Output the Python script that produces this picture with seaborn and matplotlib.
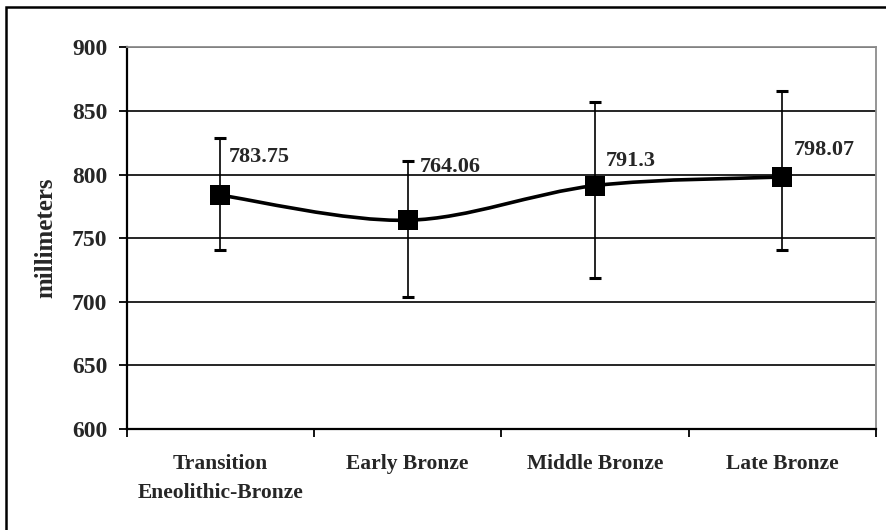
import numpy as np
import pandas as pd
import matplotlib
matplotlib.use("Agg")
import matplotlib.pyplot as plt
import seaborn as sns
from matplotlib.path import Path
from matplotlib.patches import PathPatch, Rectangle

# data
periods = ["Transition\nEneolithic-Bronze", "Early Bronze", "Middle Bronze", "Late Bronze"]
means = [783.75, 764.06, 791.3, 798.07]
err_low = [741, 704, 719, 741]
err_high = [829, 811, 857, 866]
mean_labels = ["783.75", "764.06", "791.3", "798.07"]

# label offsets (pixels, right / up from the point)
label_dx = [8, 12, 11, 11]
label_dy = [38, 53, 25, 27]

sns.set_style("white")
plt.rcParams["font.family"] = ["Liberation Serif", "DejaVu Serif"]
plt.rcParams["font.weight"] = "bold"

DPI = 100
fig = plt.figure(figsize=(8.86, 5.30), dpi=DPI)
ax = fig.add_axes([126.7 / 886, 1 - 429 / 530, (876 - 126.7) / 886, (429 - 47.3) / 530])

df = pd.DataFrame({"x": np.arange(len(periods)), "mean": means,
                   "lo": err_low, "hi": err_high})

# error bars
ax.errorbar(df["x"], df["mean"],
            yerr=[df["mean"] - df["lo"], df["hi"] - df["mean"]],
            fmt="none", ecolor="black", elinewidth=1.2, capsize=4.3,
            capthick=2.2, zorder=3)

# smoothed line (Excel-style bezier through the points)
pts = np.column_stack([df["x"], df["mean"]]).astype(float)
n = len(pts)
verts = [pts[0]]
codes = [Path.MOVETO]
for i in range(n - 1):
    p_prev = pts[i - 1] if i > 0 else pts[i]
    p_next2 = pts[i + 2] if i + 2 < n else pts[i + 1]
    c1 = pts[i] + (pts[i + 1] - p_prev) / 6
    c2 = pts[i + 1] - (p_next2 - pts[i]) / 6
    verts += [c1, c2, pts[i + 1]]
    codes += [Path.CURVE4] * 3
ax.add_patch(PathPatch(Path(verts, codes), facecolor="none", edgecolor="black",
                       lw=2.6, zorder=4, capstyle="round", joinstyle="round"))

sns.scatterplot(data=df, x="x", y="mean", marker="s", s=188, color="black",
                edgecolor="black", linewidth=0, ax=ax, zorder=5, legend=False)

px2pt = 72 / DPI
for i, txt in enumerate(mean_labels):
    ax.annotate(txt, (df["x"][i], df["mean"][i]),
                xytext=(label_dx[i] * px2pt, label_dy[i] * px2pt),
                textcoords="offset points", ha="left", va="center",
                fontsize=16, fontweight="bold", zorder=6)

# axes
ax.set_xlim(-0.5, len(periods) - 0.5)
ax.set_ylim(600, 900)
ax.set_yticks(np.arange(600, 901, 50))
ax.yaxis.grid(True, color="black", lw=1.2)
ax.set_axisbelow(True)

ax.set_xticks(np.arange(-0.5, len(periods), 1.0))
ax.set_xticklabels([])
ax.set_xticks(np.arange(len(periods)), minor=True)
ax.set_xticklabels(periods, minor=True, fontsize=15.5, fontweight="bold",
                   va="top", linespacing=1.6)
ax.tick_params(axis="x", which="major", direction="out", length=5.5,
               width=1.3, color="black", bottom=True)
ax.tick_params(axis="x", which="minor", length=0, pad=18)
ax.tick_params(axis="y", direction="out", length=6, width=1.3,
               color="black", left=True, pad=8, labelsize=17)
for lab in ax.get_yticklabels():
    lab.set_fontweight("bold")

for side in ["top", "right"]:
    ax.spines[side].set_color("#8c8c8c")
    ax.spines[side].set_linewidth(1.3)
for side in ["left", "bottom"]:
    ax.spines[side].set_color("black")
    ax.spines[side].set_linewidth(1.6)

ax.set_xlabel("")
ax.set_ylabel("millimeters", fontsize=18, fontweight="bold", labelpad=10)

# outer chart border
fig.add_artist(Rectangle((6 / 886, -0.05), 1.2, 1 - 7 / 530 + 0.05,
                         transform=fig.transFigure, fill=False,
                         edgecolor="black", lw=1.8))

fig.savefig("out.png", dpi=DPI)
